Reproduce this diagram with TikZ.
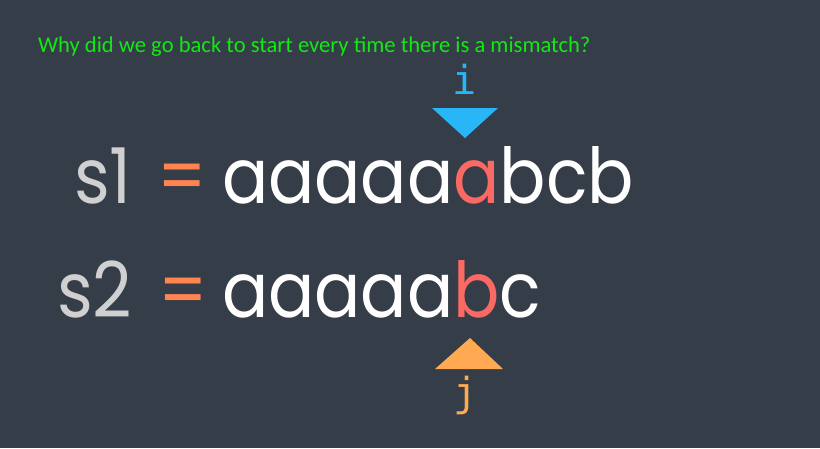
\documentclass[tikz,border=0pt]{standalone}
\usepackage{fontspec}
\newfontfamily\popfont{Poppins}
\newfontfamily\titlefont{Carlito}
\newfontfamily\monofont{DejaVu Sans Mono}
\definecolor{bg}{RGB}{52,61,72}
\definecolor{titlegreen}{RGB}{20,232,20}
\definecolor{sgray}{RGB}{208,208,208}
\definecolor{eqorange}{RGB}{255,132,80}
\definecolor{hired}{RGB}{250,105,100}
\definecolor{iblue}{RGB}{41,182,246}
\definecolor{jorange}{RGB}{255,170,82}
\newcommand{\narrow}[1]{\scalebox{0.89}[1]{#1}}
\tikzset{
  txt/.style={inner sep=0pt, outer sep=0pt, anchor=base west},
  big/.style={txt, font=\popfont\fontsize{77}{80}\selectfont},
  ptr/.style={inner sep=0pt, outer sep=0pt, anchor=base, font=\monofont\fontsize{40}{44}\selectfont}
}
\begin{document}
\begin{tikzpicture}[x=1pt,y=-1pt]
\useasboundingbox[fill=bg] (0,0) rectangle (820,448);
\node[txt, font=\titlefont\fontsize{22.6}{26}\selectfont, text=titlegreen] (title) at (38,52) {Why did we go back to start every time there is a mismatch?};
% row 1
\node[big, text=sgray] (s1) at (74,203) {\narrow{s1}};
\node[big, text=eqorange] (eq1) at (157,203) {\narrow{=}};
\node[big, text=white] (str1) at (222,203) {\narrow{aaaaa\textcolor{hired}{a}bcb}};
% row 2
\node[big, text=sgray] (s2) at (57,317) {\narrow{s2}};
\node[big, text=eqorange] (eq2) at (158,317) {\narrow{=}};
\node[big, text=white] (str2) at (222,317) {\narrow{aaaaa\textcolor{hired}{b}c}};
% pointers
\node[ptr, text=iblue] (i) at (465,94) {i};
\fill[iblue] (432,108) -- (498,108) -- (465,138) -- cycle;
\fill[jorange] (470,338) -- (503,369) -- (435,369) -- cycle;
\node[ptr, text=jorange] (j) at (466,406) {j};
\end{tikzpicture}
\end{document}
